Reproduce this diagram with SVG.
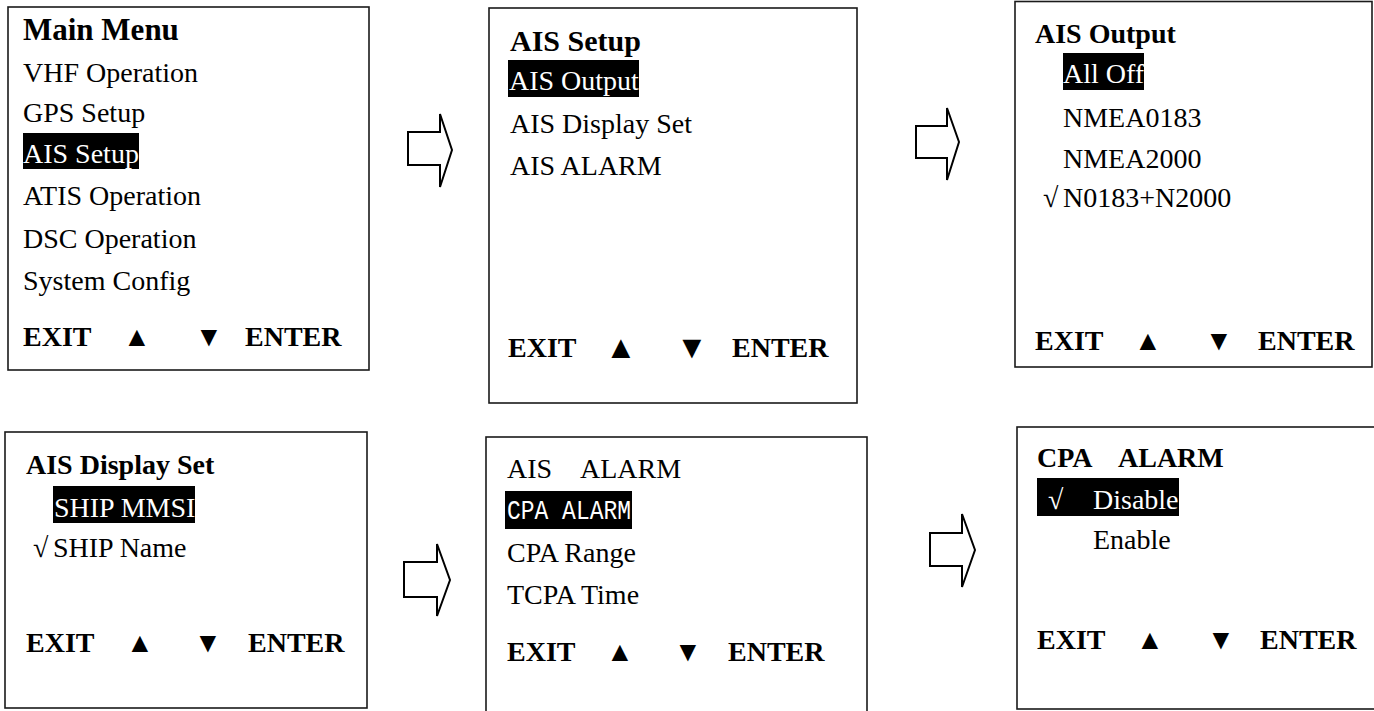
<svg xmlns="http://www.w3.org/2000/svg" width="1374" height="711" viewBox="0 0 1374 711">
<style>
.box{fill:#fff;stroke:#1a1a1a;stroke-width:1.6}
.t{font-family:"Liberation Serif","Times New Roman",serif;font-size:28px;fill:#000}
.b{font-weight:bold}
.big{font-size:31px}
.w{fill:#fff}
.hl{fill:#000}
.mono{font-family:"Liberation Mono","Courier New",monospace;font-size:27px;fill:#fff}
.arrow{fill:#fff;stroke:#000;stroke-width:2;stroke-linejoin:miter}
</style>
<rect width="1374" height="711" fill="#fff"/>

<g id="main-menu">
<rect class="box" x="8" y="7" width="361" height="363"/>
<text class="t b big" x="23" y="40">Main Menu</text>
<text class="t" x="23" y="82">VHF Operation</text>
<text class="t" x="23" y="122">GPS Setup</text>
<rect class="hl" x="23" y="133" width="116" height="36"/>
<text class="t w" x="23" y="163">AIS Setup</text>
<text class="t" x="23" y="205">ATIS Operation</text>
<text class="t" x="23" y="248">DSC Operation</text>
<text class="t" x="23" y="290">System Config</text>
<text class="t b" x="23" y="346">EXIT</text>
<text class="t b" x="123" y="346">▲</text>
<text class="t b" x="195" y="346">▼</text>
<text class="t b" x="245" y="346">ENTER</text>
</g>

<g id="ais-setup">
<rect class="box" x="489" y="8" width="368" height="395"/>
<text class="t b" x="510" y="51" style="font-size:30px">AIS Setup</text>
<rect class="hl" x="508" y="60" width="131" height="37"/>
<text class="t w" x="509" y="90">AIS Output</text>
<text class="t" x="510" y="133">AIS Display Set</text>
<text class="t" x="510" y="175">AIS ALARM</text>
<text class="t b" x="508" y="357">EXIT</text>
<text class="t b" x="605" y="358" style="font-size:32px">▲</text>
<text class="t b" x="676" y="358" style="font-size:32px">▼</text>
<text class="t b" x="732" y="357">ENTER</text>
</g>

<g id="ais-output">
<rect class="box" x="1015" y="1.5" width="357" height="365.5"/>
<text class="t b" x="1035" y="43">AIS Output</text>
<rect class="hl" x="1063" y="53" width="81" height="37"/>
<text class="t w" x="1063" y="83">All Off</text>
<text class="t" x="1063" y="127">NMEA0183</text>
<text class="t" x="1063" y="168">NMEA2000</text>
<text class="t" x="1043" y="207">√</text>
<text class="t" x="1063" y="207">N0183+N2000</text>
<text class="t b" x="1035" y="350">EXIT</text>
<text class="t b" x="1134" y="350">▲</text>
<text class="t b" x="1205" y="350">▼</text>
<text class="t b" x="1258" y="350">ENTER</text>
</g>

<g id="ais-display-set">
<rect class="box" x="5" y="432" width="362" height="276"/>
<text class="t b" x="26" y="474">AIS Display Set</text>
<rect class="hl" x="53" y="486" width="142" height="37"/>
<text class="t w" x="54" y="517">SHIP MMSI</text>
<text class="t" x="33" y="557">√</text>
<text class="t" x="53" y="557">SHIP Name</text>
<text class="t b" x="26" y="652">EXIT</text>
<text class="t b" x="126" y="652">▲</text>
<text class="t b" x="194" y="652">▼</text>
<text class="t b" x="248" y="652">ENTER</text>
</g>

<g id="ais-alarm">
<rect class="box" x="486" y="437" width="381" height="290"/>
<text class="t" x="507" y="478">AIS<tspan x="580">ALARM</tspan></text>
<rect class="hl" x="505" y="491" width="127" height="38"/>
<text class="mono" x="507" y="519" textLength="124" lengthAdjust="spacingAndGlyphs">CPA ALARM</text>
<text class="t" x="507" y="562">CPA Range</text>
<text class="t" x="507" y="604">TCPA Time</text>
<text class="t b" x="507" y="661">EXIT</text>
<text class="t b" x="606" y="661">▲</text>
<text class="t b" x="674" y="661">▼</text>
<text class="t b" x="728" y="661">ENTER</text>
</g>

<g id="cpa-alarm">
<rect class="box" x="1017" y="427" width="370" height="282"/>
<text class="t b" x="1037" y="467">CPA<tspan x="1118">ALARM</tspan></text>
<rect class="hl" x="1037" y="478" width="142" height="38"/>
<text class="t w" x="1048" y="509">√</text>
<text class="t w" x="1093" y="509">Disable</text>
<text class="t" x="1093" y="549">Enable</text>
<text class="t b" x="1037" y="649">EXIT</text>
<text class="t b" x="1136" y="649">▲</text>
<text class="t b" x="1207" y="649">▼</text>
<text class="t b" x="1260" y="649">ENTER</text>
</g>

<g id="connectors">
<polygon class="arrow" points="408,132 440,132 440,114 452,150 440,187 440,165 408,165"/>
<polygon class="arrow" points="916,126 947,126 947,108 959,142 947,180 947,158 916,158"/>
<polygon class="arrow" points="404,562 437,562 437,544 450,580 437,616 437,597 404,597"/>
<polygon class="arrow" points="930,533 962,533 962,514 975,550 962,587 962,566 930,566"/>
</g>
</svg>
